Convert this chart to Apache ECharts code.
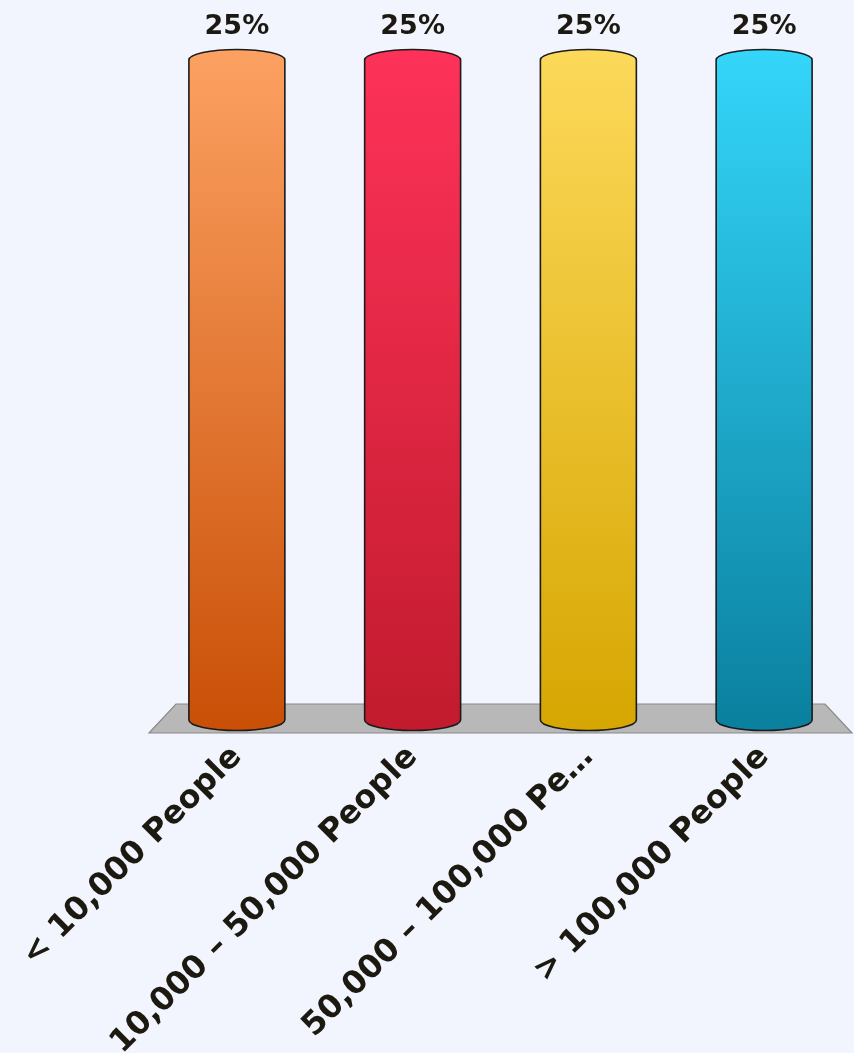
<!DOCTYPE html>
<html>
<head>
<meta charset="utf-8">
<style>
  html, body { margin: 0; padding: 0; background: #f3f5fe; }
  #chart { width: 854px; height: 1053px; }
</style>
<script src="https://cdn.jsdelivr.net/npm/echarts@6/dist/echarts.min.js"></script>
</head>
<body>
<div id="chart"></div>
<script>
// Population size groups and their shares (%)
var categories = ['< 10,000 People', '10,000 – 50,000 People', '50,000 – 100,000 People', '> 100,000 People'];
var shares = [25, 25, 25, 25];
// Cylinder colours: light top, deep bottom
var topColors = ['#fca162', '#fe3259', '#fdd95a', '#34d6fa'];
var bottomColors = ['#c94f06', '#c11b2d', '#d6a601', '#0a7f9e'];

var MAX_LABEL_CHARS = 22;

var chart = echarts.init(document.getElementById('chart'));

function renderCylinder(params, api) {
  var i = api.value(0);
  var v = api.value(1);
  var topPt = api.coord([i, v]);
  var basePt = api.coord([i, 0]);
  var band = api.size([1, 0])[0];
  var rx = band * 0.273;
  var ry = 10.5;
  var cx = topPt[0];
  var yTop = topPt[1];
  var yBot = basePt[1];
  var d = 'M' + (cx - rx) + ',' + yTop +
          ' L' + (cx - rx) + ',' + yBot +
          ' A' + rx + ',' + ry + ' 0 0 0 ' + (cx + rx) + ',' + yBot +
          ' L' + (cx + rx) + ',' + yTop +
          ' A' + rx + ',' + ry + ' 0 0 0 ' + (cx - rx) + ',' + yTop + ' Z';
  return {
    type: 'group',
    children: [
      {
        type: 'path',
        shape: { pathData: d },
        style: {
          fill: new echarts.graphic.LinearGradient(0, 0, 0, 1, [
            { offset: 0, color: topColors[i] },
            { offset: 1, color: bottomColors[i] }
          ]),
          stroke: '#1b1b1b',
          lineWidth: 1.6
        }
      },
      {
        type: 'text',
        style: {
          x: cx,
          y: yTop - ry - 9,
          text: v + '%',
          fill: '#1c1a10',
          font: 'bold 27px "DejaVu Sans"',
          align: 'center',
          verticalAlign: 'bottom'
        }
      }
    ]
  };
}

function renderFloor(params, api) {
  var cs = params.coordSys;
  var yb = cs.y + cs.height;
  var inset = 27;
  return {
    type: 'polygon',
    shape: {
      points: [
        [cs.x, yb + 13],
        [cs.x + cs.width, yb + 13],
        [cs.x + cs.width - inset, yb - 16],
        [cs.x + inset, yb - 16]
      ]
    },
    style: { fill: '#b8b8b8', stroke: '#8a8a8a', lineWidth: 1.2 }
  };
}

chart.setOption({
  backgroundColor: '#f3f5fe',
  animation: false,
  grid: { left: 149, right: 2, top: 60, bottom: 333, outerBoundsMode: 'none' },
  xAxis: {
    type: 'category',
    data: categories,
    axisLine: { show: false },
    axisTick: { show: false },
    axisLabel: {
      interval: 0,
      rotate: 45,
      margin: 32,
      color: '#1c1a10',
      fontFamily: 'DejaVu Sans',
      fontWeight: 'bold',
      fontSize: 32,
      formatter: function (name) {
        return name.length > MAX_LABEL_CHARS ? name.slice(0, 19) + '…' : name;
      }
    }
  },
  yAxis: { type: 'value', min: 0, max: 25, show: false },
  series: [
    {
      type: 'custom',
      renderItem: renderFloor,
      data: [[0, 0]],
      z: 1,
      silent: true
    },
    {
      type: 'custom',
      renderItem: renderCylinder,
      data: shares.map(function (s, i) { return [i, s]; }),
      z: 2
    }
  ]
});
</script>
</body>
</html>
